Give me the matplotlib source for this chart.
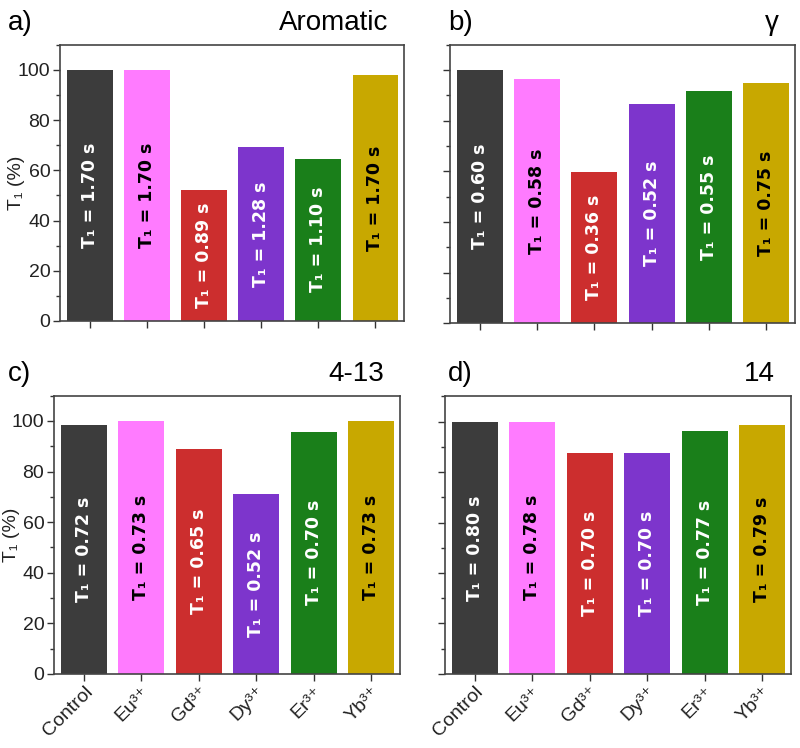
import matplotlib
matplotlib.use('Agg')
import matplotlib.pyplot as plt
from matplotlib.ticker import MultipleLocator

categories = ['Control', 'Eu³⁺', 'Gd³⁺', 'Dy³⁺', 'Er³⁺', 'Yb³⁺']
colors = ['#3c3c3c', '#ff7bff', '#cc2e2e', '#7d35cc', '#1a7f1a', '#c8a800']
text_colors = ['white', 'black', 'white', 'white', 'white', 'black']

aromatic_pct = [100, 100, 52.1, 69.3, 64.7, 98.0]
aromatic_t1 = ['1.70', '1.70', '0.89', '1.28', '1.10', '1.70']
gamma_pct = [100, 96.7, 59.9, 86.6, 91.7, 95.1]
gamma_t1 = ['0.60', '0.58', '0.36', '0.52', '0.55', '0.75']
mid_pct = [98.4, 100, 88.9, 71.3, 95.8, 100]
mid_t1 = ['0.72', '0.73', '0.65', '0.52', '0.70', '0.73']
c14_pct = [100, 100, 87.5, 87.5, 96.3, 98.7]
c14_t1 = ['0.80', '0.78', '0.70', '0.70', '0.77', '0.79']

panels = [
    ('a)', 'Aromatic', aromatic_pct, aromatic_t1, [0.075, 0.571, 0.430, 0.369]),
    ('b)', 'γ', gamma_pct, gamma_t1, [0.5625, 0.568, 0.431, 0.372]),
    ('c)', '4-13', mid_pct, mid_t1, [0.0675, 0.099, 0.4325, 0.372]),
    ('d)', '14', c14_pct, c14_t1, [0.556, 0.099, 0.4325, 0.371]),
]
tag_x = [0.01, 0.56, 0.01, 0.56]
ylabel_px = [25, None, 20, None]

plt.rcParams['font.family'] = ['Liberation Sans', 'DejaVu Sans']
fig = plt.figure(figsize=(8, 7.48), dpi=100)

for i, (tag, name, pct, t1, pos) in enumerate(panels):
    ax = fig.add_axes(pos)
    x = list(range(len(categories)))
    ax.bar(x, pct, width=0.8, color=colors)
    for xi, h, t, tc in zip(x, pct, t1, text_colors):
        ax.text(xi, h / 2, f'T₁ = {t} s', rotation=90, ha='center', va='center',
                color=tc, fontsize=12.5, fontweight='bold', family=['DejaVu Sans'])
    ax.set_xlim(-0.52, 5.5)
    ax.set_ylim(0, 110)
    ax.yaxis.set_major_locator(MultipleLocator(20))
    ax.yaxis.set_minor_locator(MultipleLocator(10))
    ax.set_xticks(x)
    ax.tick_params(direction='out', length=5, width=1, colors='#333333', labelcolor='#222222', labelsize=14, pad=2)
    ax.tick_params(which='minor', direction='out', length=3, width=1, colors='#333333')
    for s in ax.spines.values():
        s.set_color('#444444')
        s.set_linewidth(1.2)
    if i % 2 == 1:
        ax.set_yticklabels([])
    else:
        ax.set_ylabel('T₁ (%)', fontsize=14, color='#222222')
        ax.yaxis.set_label_coords((ylabel_px[i] - pos[0] * 800) / (pos[2] * 800), 0.5)
    if i < 2:
        ax.set_xticklabels([])
    else:
        ax.set_xticklabels(categories, rotation=45, ha='right', rotation_mode='anchor', fontsize=14)
    fig.text(tag_x[i], pos[1] + pos[3] + 0.012, tag, fontsize=20, va='bottom', ha='left')
    fig.text(pos[0] + pos[2] - 0.02, pos[1] + pos[3] + 0.012, name,
             fontsize=20, va='bottom', ha='right')

plt.savefig('out.png', dpi=100)
plt.close()
